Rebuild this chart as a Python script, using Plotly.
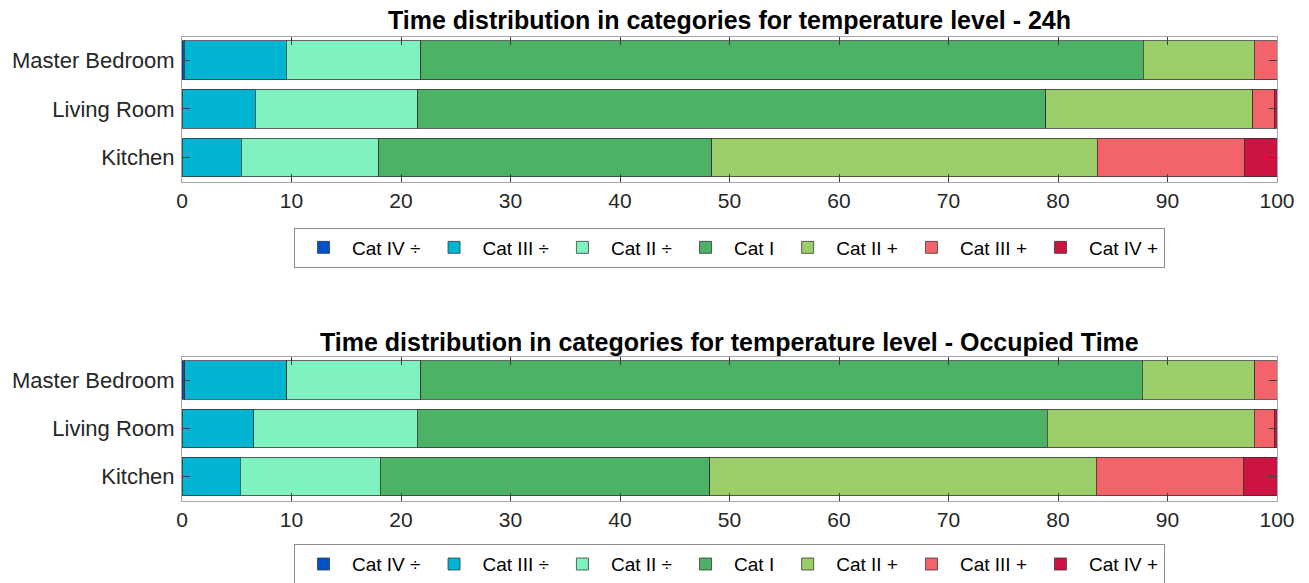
import plotly.graph_objects as go

rooms = ["Master Bedroom", "Living Room", "Kitchen"]
series_names = ["Cat IV ÷", "Cat III ÷", "Cat II ÷", "Cat I", "Cat II +", "Cat III +", "Cat IV +"]
series_colors = ["#0052CC", "#00B4D2", "#80F2C0", "#4CB266", "#9BCD69", "#F26469", "#CD1341"]
x_ticks = [0, 10, 20, 30, 40, 50, 60, 70, 80, 90, 100]
titles = ["Time distribution in categories for temperature level - 24h",
          "Time distribution in categories for temperature level - Occupied Time"]

# Percent of time per category, per room (Master Bedroom, Living Room, Kitchen)
cat_iv_minus_24h = [0.2, 0.0, 0.0]
cat_iii_minus_24h = [9.3, 6.7, 5.4]
cat_ii_minus_24h = [12.3, 14.85, 12.56]
cat_i_24h = [66.0, 57.35, 30.44]
cat_ii_plus_24h = [10.1, 18.9, 35.2]
cat_iii_plus_24h = [2.1, 2.0, 13.4]
cat_iv_plus_24h = [0.0, 0.2, 3.0]

cat_iv_minus_occ = [0.25, 0.0, 0.0]
cat_iii_minus_occ = [9.3, 6.55, 5.33]
cat_ii_minus_occ = [12.25, 14.95, 12.77]
cat_i_occ = [65.9, 57.5, 30.1]
cat_ii_plus_occ = [10.25, 18.9, 35.3]
cat_iii_plus_occ = [2.05, 1.9, 13.4]
cat_iv_plus_occ = [0.0, 0.2, 3.1]

data_24h = [cat_iv_minus_24h, cat_iii_minus_24h, cat_ii_minus_24h, cat_i_24h,
            cat_ii_plus_24h, cat_iii_plus_24h, cat_iv_plus_24h]
data_occ = [cat_iv_minus_occ, cat_iii_minus_occ, cat_ii_minus_occ, cat_i_occ,
            cat_ii_plus_occ, cat_iii_plus_occ, cat_iv_plus_occ]

FONT = "Liberation Sans, Arial, Helvetica, sans-serif"
TXT = "#262626"

fig = go.Figure()

for (data, leg, xa, ya) in [(data_24h, "legend", "x", "y"), (data_occ, "legend2", "x2", "y2")]:
    for name, color, vals in zip(series_names, series_colors, data):
        fig.add_trace(go.Bar(
            y=rooms, x=vals, name=name, orientation="h",
            marker=dict(color=color, line=dict(color="rgba(50,50,50,0.75)", width=1)),
            legend=leg, showlegend=True, xaxis=xa, yaxis=ya,
        ))

common = dict(showline=True, linecolor="#A6A6A6", linewidth=1, mirror="ticks",
              ticks="inside", tickcolor="#404040", ticklen=8, tickwidth=1,
              showgrid=False, zeroline=False, automargin=False)

xcommon = dict(common, range=[0, 100], tickvals=x_ticks,
               tickfont=dict(family=FONT, size=21, color=TXT))
ycommon = dict(common, categoryorder="array", categoryarray=rooms[::-1],
               range=[-0.505, 2.48], ticklabelstandoff=2,
               tickfont=dict(family=FONT, size=22, color=TXT))

legend_common = dict(orientation="h", x=0.5, xanchor="center", yanchor="top",
                     bordercolor="#8C8C8C", borderwidth=1, bgcolor="white",
                     font=dict(family=FONT, size=19, color="black"),
                     itemwidth=47, traceorder="normal", tracegroupgap=0)

# page body has an 8px margin, so the figure is sized/placed to compensate
fig.update_layout(
    barmode="stack", bargap=0.2,
    width=1301, height=575,
    margin=dict(l=174, r=32, t=29, b=82, autoexpand=False),
    paper_bgcolor="white", plot_bgcolor="white",
    font=dict(family=FONT, color=TXT),
    xaxis=dict(xcommon, domain=[0, 1], anchor="y"),
    yaxis=dict(ycommon, domain=[0.6875, 1.0], anchor="x"),
    xaxis2=dict(xcommon, domain=[0, 1], anchor="y2"),
    yaxis2=dict(ycommon, domain=[0.0, 0.3103], anchor="x2"),
    legend=dict(legend_common, y=0.5894),
    legend2=dict(legend_common, y=-0.093),
    annotations=[
        dict(text="<b>" + titles[0] + "</b>", xref="paper", yref="paper", x=0.5, y=1.0,
             yshift=17, xanchor="center", yanchor="middle", showarrow=False,
             font=dict(family=FONT, size=25, color="black")),
        dict(text="<b>" + titles[1] + "</b>", xref="paper", yref="paper", x=0.5, y=0.3103,
             yshift=15, xanchor="center", yanchor="middle", showarrow=False,
             font=dict(family=FONT, size=25, color="black")),
    ],
)

fig.write_html("out.html")
